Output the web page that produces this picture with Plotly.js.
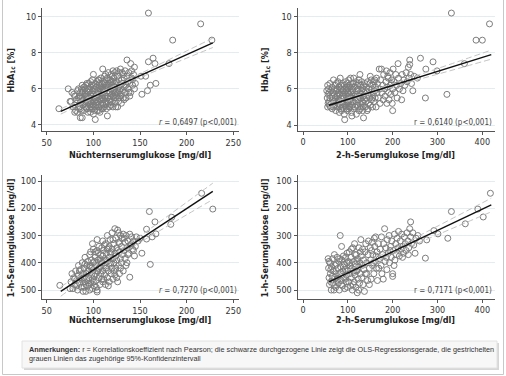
<!DOCTYPE html>
<html>
<head>
<meta charset="utf-8">
<script src="https://cdn.plot.ly/plotly-3.0.1.min.js"></script>
<style>
html,body{margin:0;padding:0;background:#fff;}
#chart{width:506px;height:376px;}
</style>
</head>
<body>
<div id="chart"></div>
<script>
// ---------- DATA ----------
// Panel 1: Nüchternserumglukose [mg/dl] vs HbA1c [%]
const fastingVsHba1c = [
[76,5.3],[78,5.0],[80,5.6],[81,4.8],[82,5.2],[83,5.9],[84,5.5],[79,5.7],[83,4.7],[84,6.0],[80,5.1],[82,5.4],[77,5.8],
[85,5.0],[86,5.8],[86,4.9],[87,5.3],[87,6.0],[88,5.5],[88,4.4],[89,5.1],[89,5.9],[90,5.4],[90,6.1],[90,4.8],[91,5.7],[91,5.2],[92,6.2],[92,5.0],[93,5.5],[93,5.9],[93,4.9],[94,5.3],[94,6.0],[94,5.6],[85,5.6],[86,5.2],[87,4.8],[88,6.2],[89,5.4],[91,6.0],[92,5.6],[94,4.7],[90,5.2],[88,5.8],[92,5.3],[93,6.3],[86,5.5],
[95,5.2],[95,5.8],[95,6.3],[96,4.9],[96,5.5],[96,6.0],[97,5.3],[97,5.7],[97,4.7],[98,6.2],[98,5.0],[98,5.6],[99,5.4],[99,5.9],[99,6.5],[100,5.1],[100,5.7],[100,6.8],[100,4.6],[101,5.3],[101,6.0],[101,5.5],[102,4.3],[102,5.8],[102,6.3],[102,5.0],[103,5.4],[103,6.1],[103,5.6],[104,4.8],[104,5.9],[104,6.4],[104,5.2],[95,5.5],[96,5.1],[97,6.1],[98,5.3],[99,4.9],[100,6.2],[101,4.8],[103,5.1],[104,5.5],[97,6.4],[99,5.1],[102,5.4],
[105,5.3],[105,5.9],[105,6.5],[106,5.0],[106,5.6],[106,6.2],[107,4.7],[107,5.4],[107,6.0],[108,5.8],[108,5.1],[108,6.6],[109,5.5],[109,6.3],[109,4.9],[110,5.7],[110,6.1],[110,7.1],[110,5.2],[111,5.4],[111,6.4],[111,5.9],[112,5.0],[112,6.0],[112,6.7],[113,5.6],[113,5.3],[113,6.2],[114,5.8],[114,4.9],[114,6.5],[105,5.7],[106,4.8],[107,6.3],[108,5.4],[109,5.9],[110,4.9],[111,5.1],[112,5.5],[113,6.8],[114,5.2],[106,6.5],[108,6.1],[110,5.5],[112,6.3],
[115,4.5],[115,5.5],[115,6.1],[115,6.6],[116,5.2],[116,5.9],[116,6.9],[117,5.4],[117,6.3],[117,5.0],[118,5.8],[118,6.5],[118,5.6],[119,6.0],[119,5.1],[119,6.8],[120,5.7],[120,6.2],[120,5.3],[121,7.0],[121,6.4],[121,5.0],[122,5.9],[122,6.6],[122,5.5],[123,6.1],[123,5.2],[123,6.9],[124,5.8],[124,6.3],[124,5.0],[116,6.3],[118,5.3],[120,6.7],[122,6.1],[124,5.5],[117,5.8],[119,6.4],[121,5.6],[123,5.7],
[125,5.6],[125,6.4],[125,7.0],[126,5.0],[126,6.0],[126,6.7],[127,5.8],[127,5.3],[128,6.2],[128,6.9],[128,5.5],[129,7.1],[129,6.0],[130,5.7],[130,6.5],[130,5.2],[131,6.3],[131,5.9],[132,6.8],[132,5.5],[133,6.1],[133,6.6],[134,5.8],[134,7.0],[127,6.5],[129,5.6],[131,6.9],[133,5.4],[128,5.9],
[135,6.2],[135,5.5],[136,7.6],[136,6.7],[137,6.0],[137,6.4],[138,5.8],[138,6.9],[139,6.3],[140,7.4],[140,5.8],[141,6.6],[141,7.0],[142,6.2],[143,6.8],[144,7.2],[144,6.0],[145,6.3],[139,5.6],[142,6.5],
[63,4.9],[73,6.0],[75,5.3],[80,4.7],[86,4.4],[152,5.7],[158,5.9],[161,6.2],[167,6.3],[156,6.7],[151,6.7],[159,7.5],[164,7.7],[166,7.4],[181,7.4],[159,10.2],[215,9.6],[185,8.7],[227,8.7]
];

// Panel 2: 2-h-Serumglukose [mg/dl] vs HbA1c [%]
const twoHourVsHba1c = [
[53,5.9],[54,5.5],[55,6.2],[55,5.0],[56,5.7],[57,6.0],[58,5.3],[58,5.8],[59,5.1],[60,6.3],[60,5.5],[61,5.0],[62,5.9],[63,5.2],[64,5.6],[65,6.1],[65,4.9],[66,5.4],[67,5.8],[68,5.0],[68,6.5],[69,5.3],[70,5.7],[70,6.0],[56,5.2],
[71,5.1],[72,5.5],[72,6.2],[73,4.8],[74,5.9],[75,5.3],[76,6.0],[76,5.6],[77,5.0],[78,6.4],[78,5.2],[79,5.8],[80,5.4],[80,6.1],[81,4.7],[82,5.7],[83,6.6],[83,5.1],[84,5.5],[85,6.0],[85,4.9],[86,5.3],[87,5.8],[88,6.3],[88,5.0],[89,5.6],[90,5.2],[90,6.0],[74,6.3],[77,5.7],[81,5.0],[84,6.2],[86,4.8],[89,5.9],[79,5.3],
[91,5.5],[92,4.6],[92,6.2],[93,4.3],[93,5.8],[94,5.1],[95,5.4],[95,6.4],[96,5.0],[97,5.9],[98,5.3],[98,6.1],[99,4.8],[100,5.6],[100,6.0],[101,5.2],[102,6.5],[102,4.9],[103,5.7],[104,5.4],[104,6.2],[105,5.0],[106,5.8],[106,6.6],[107,5.3],[108,4.7],[108,6.0],[109,5.6],[110,5.1],[110,6.3],[94,5.7],[97,4.9],[99,6.3],[101,5.8],[103,5.0],[105,6.1],[107,5.5],[109,4.5],[96,6.0],[100,5.3],
[111,5.9],[112,5.3],[113,6.6],[113,4.9],[114,5.6],[115,6.1],[116,5.0],[117,5.7],[118,6.4],[118,5.3],[119,4.6],[120,5.9],[121,6.2],[122,5.4],[122,5.0],[123,6.0],[124,5.6],[125,6.5],[125,4.8],[126,5.2],[127,6.8],[127,5.8],[128,5.5],[129,6.2],[130,5.0],[130,5.7],[131,6.4],[132,5.3],[133,6.0],[133,4.8],[134,5.6],[135,4.4],[135,6.2],[112,6.3],[116,5.5],[120,5.1],[124,6.3],[128,4.9],[131,5.9],[134,5.2],
[136,5.8],[137,5.4],[138,6.3],[139,5.0],[140,5.9],[141,6.1],[142,5.5],[143,4.8],[144,6.4],[145,5.7],[146,5.2],[147,6.0],[148,5.6],[149,6.3],[150,5.1],[151,5.8],[152,6.5],[153,5.4],[154,6.0],[155,5.0],[156,6.2],[157,5.7],[158,5.3],[159,6.4],[160,5.9],[161,5.5],[162,6.1],[163,5.0],[164,6.6],[165,5.8],[145,4.9],[150,6.7],[155,5.5],[160,6.5],[140,5.3],
[166,6.3],[168,5.5],[170,7.1],[171,6.0],[172,5.2],[173,6.5],[175,7.1],[176,5.8],[178,6.2],[179,5.4],[180,6.8],[182,6.0],[183,5.6],[185,6.4],[186,7.0],[187,5.2],[188,6.1],[190,6.6],[191,5.8],[192,5.4],[194,6.9],[195,6.2],[196,5.7],[198,6.5],[199,5.2],[200,6.0],[200,4.8],[201,7.1],[197,6.3],[189,6.7],
[203,6.4],[205,5.8],[207,6.8],[209,6.2],[210,5.5],[212,7.4],[213,6.6],[215,6.0],[218,6.3],[220,5.4],[221,6.8],[223,5.9],[225,6.5],[227,6.2],[230,6.9],[232,6.4],[235,7.2],[236,6.6],[238,7.6],[238,7.35],[240,6.8],[242,6.3],[245,5.9],[248,6.7],[255,6.6],
[262,7.7],[274,7.1],[273,5.5],[290,7.5],[299,7.0],[321,5.7],[331,10.2],[360,7.4],[386,8.7],[400,8.7],[416,9.6]
];

// Panel 3: Nüchternserumglukose [mg/dl] vs 1-h-Serumglukose [mg/dl]
const fastingVsOneHour = [
[76,470],[77,440],[78,495],[79,455],[80,480],[81,430],[82,465],[83,500],[84,445],[84,410],[85,475],[86,455],[86,425],[87,490],[88,440],[88,400],[89,470],[89,505],[80,460],[82,485],[85,430],[87,460],
[90,420],[90,455],[90,490],[91,380],[91,470],[92,440],[92,505],[93,410],[93,465],[94,395],[94,485],[95,430],[95,455],[96,370],[96,500],[97,415],[97,475],[98,445],[98,390],[99,330],[99,460],[99,495],[91,405],[93,440],[95,475],[97,360],[98,420],[92,480],[94,430],[96,410],
[100,350],[100,425],[100,470],[101,395],[101,485],[102,440],[102,380],[103,410],[103,465],[104,315],[104,355],[104,500],[105,430],[105,390],[106,455],[106,340],[107,415],[107,480],[108,370],[108,440],[109,400],[109,460],[100,400],[102,360],[103,490],[105,365],[106,420],[108,395],[109,345],[101,450],[104,430],[107,385],
[110,320],[110,375],[110,430],[110,470],[111,355],[111,410],[112,390],[112,445],[113,330],[113,480],[114,365],[114,420],[115,300],[115,395],[115,455],[116,345],[116,430],[117,380],[117,470],[118,315],[118,405],[119,360],[119,440],[112,335],[114,390],[116,485],[118,365],[111,460],[113,420],[117,340],[119,400],[115,350],
[120,290],[120,350],[120,420],[121,385],[121,460],[122,330],[122,400],[123,275],[123,365],[123,445],[124,310],[124,420],[125,345],[125,390],[126,280],[126,470],[127,325],[127,410],[128,360],[128,440],[129,300],[129,385],[121,315],[122,430],[124,375],[126,355],[128,330],[125,455],[127,290],[129,420],
[130,340],[130,400],[131,310],[131,370],[132,295],[132,430],[133,355],[134,325],[134,385],[135,300],[136,345],[136,400],[137,320],[138,365],[139,295],[140,335],[141,305],[142,350],[143,320],[144,375],[145,340],[146,305],[133,310],[135,410],[137,370],[139,340],[141,330],[143,355],[148,320],[150,310],
[64,483],[75,495],[104,507],[139,453],[152,365],[157,313],[161,406],[163,305],[167,294],[157,277],[160,212],[166,250],[183,259],[184,233],[216,145],[228,203]
];

// Panel 4: 2-h-Serumglukose [mg/dl] vs 1-h-Serumglukose [mg/dl]
const twoHourVsOneHour = [
[56,385],[57,420],[58,455],[59,480],[60,400],[61,440],[62,470],[63,500],[64,415],[65,450],[66,385],[67,475],[68,430],[69,500],[70,370],[71,455],[72,410],[73,490],[74,440],[75,465],[58,395],[62,425],[66,460],[70,485],[74,405],
[76,380],[77,450],[78,420],[79,475],[80,395],[81,500],[82,440],[83,300],[84,415],[85,465],[86,340],[87,390],[88,485],[89,430],[90,375],[91,455],[92,405],[93,495],[94,425],[95,380],[96,470],[97,445],[98,400],[99,490],[100,430],[78,460],[82,385],[86,480],[90,415],[94,460],[98,365],[84,435],
[101,395],[102,470],[103,360],[104,440],[105,410],[106,485],[107,380],[108,455],[109,420],[110,500],[111,345],[112,430],[113,395],[114,470],[115,330],[116,445],[117,405],[118,490],[119,370],[120,430],[121,510],[122,385],[123,460],[124,415],[125,345],[126,475],[127,400],[128,440],[129,315],[130,375],[104,400],[108,350],[112,480],[116,370],[120,395],[124,500],[128,360],[106,425],[114,435],[122,425],
[131,455],[132,410],[133,350],[134,480],[135,390],[136,425],[137,505],[138,360],[139,440],[140,330],[142,400],[144,465],[145,370],[146,320],[148,420],[150,345],[151,390],[152,460],[154,325],[155,410],[156,370],[158,440],[160,340],[161,395],[162,305],[164,420],[165,360],[166,465],[168,330],[170,385],[148,480],[153,355],[157,400],[163,375],[169,420],[142,440],[159,310],
[172,350],[174,410],[175,305],[176,440],[178,370],[180,330],[182,275],[183,395],[185,345],[187,425],[188,315],[190,365],[192,300],[193,400],[195,340],[197,380],[198,320],[200,440],[200,450],[202,355],[204,295],[205,390],[207,330],[208,370],[210,310],[179,460],[186,380],[194,355],[203,410],
[212,345],[213,285],[215,375],[217,320],[219,350],[220,295],[222,340],[224,365],[226,305],[228,330],[230,355],[232,290],[234,320],[236,345],[238,275],[240,250],[240,305],[242,330],[245,290],[247,335],[250,365],[252,310],[256,300],[260,320],[222,380],[235,370],
[273,383],[276,316],[292,282],[301,294],[323,310],[331,212],[362,257],[390,203],[402,232],[418,145]
];

// OLS fit lines and 95% CI bounds
const fit1X = [65, 90, 115, 140, 170, 200, 228];
const fit1Y = [4.75, 5.33, 5.92, 6.50, 7.20, 7.90, 8.55];
const ci1Lo = [4.60, 5.23, 5.85, 6.41, 7.06, 7.70, 8.29];
const ci1Hi = [4.90, 5.43, 5.99, 6.59, 7.34, 8.10, 8.81];

const fit2X = [58, 100, 140, 180, 250, 330, 420];
const fit2Y = [5.10, 5.42, 5.73, 6.04, 6.59, 7.20, 7.90];
const ci2Lo = [4.97, 5.33, 5.66, 5.96, 6.47, 7.02, 7.65];
const ci2Hi = [5.23, 5.51, 5.80, 6.12, 6.71, 7.38, 8.15];

const fit3X = [65, 90, 115, 140, 170, 200, 228];
const fit3Y = [505, 448.7, 392.4, 336.1, 268.6, 201.0, 138.0];
const ci3Lo = [523, 459.7, 400.4, 346.1, 284.6, 224.0, 168.0];
const ci3Hi = [487, 437.7, 384.4, 326.1, 252.6, 178.0, 108.0];

const fit4X = [58, 100, 140, 180, 250, 330, 420];
const fit4Y = [470, 437.3, 406.1, 375.0, 320.4, 258.1, 188.0];
const ci4Lo = [485, 447.3, 413.1, 383.0, 332.4, 276.1, 213.0];
const ci4Hi = [455, 427.3, 399.1, 367.0, 308.4, 240.1, 163.0];

const rLabels = ['<i>r</i> = 0,6497 (p&lt;0,001)', 'r = 0,6140 (p&lt;0,001)', '<i>r</i> = 0,7270 (p&lt;0,001)', 'r = 0,7171 (p&lt;0,001)'];
const xTitles = ['Nüchternserumglukose [mg/dl]', '2-h-Serumglukose [mg/dl]', 'Nüchternserumglukose [mg/dl]', '2-h-Serumglukose [mg/dl]'];
const yTitles = ['HbA<sub>1c</sub> [%]', 'HbA<sub>1c</sub> [%]', '1-h-Serumglukose [mg/dl]', '1-h-Serumglukose [mg/dl]'];
const fastingTicks = [50, 100, 150, 200, 250];
const twoHourTicks = [0, 100, 200, 300, 400];
const hbaTicks = [4, 6, 8, 10];
const oneHourTicks = [100, 200, 300, 400, 500];
const noteLine1 = '<b>Anmerkungen:</b> r = Korrelationskoeffizient nach Pearson; die schwarze durchgezogene Linie zeigt die OLS-Regressionsgerade, die gestrichelten';
const noteLine2 = 'grauen Linien das zugehörige 95%-Konfidenzintervall';

// ---------- LAYOUT HELPERS ----------
const W = 506, H = 376;
const px = v => v / W;
const py = v => 1 - v / H;
const FONT = '"Liberation Sans Narrow", "DejaVu Sans Condensed", "Arial Narrow", "Liberation Sans", sans-serif';
const NOTEFONT = '"Liberation Sans", Arial, sans-serif';

const panels = [
  {pts: fastingVsHba1c, fx: fit1X, fy: fit1Y, lo: ci1Lo, hi: ci1Hi, xd: [42, 239], yd: [8, 130.7], xr: [44.9, 256.1], yr: [3.68, 10.48], xt: fastingTicks, yt: hbaTicks},
  {pts: twoHourVsHba1c, fx: fit2X, fy: fit2Y, lo: ci2Lo, hi: ci2Hi, xd: [297.5, 494.7], yd: [8, 130.5], xr: [-12.3, 427.6], yr: [3.7, 10.48], xt: twoHourTicks, yt: hbaTicks},
  {pts: fastingVsOneHour, fx: fit3X, fy: fit3Y, lo: ci3Lo, hi: ci3Hi, xd: [42, 239], yd: [175, 299], xr: [44.9, 256.1], yr: [533, 78], xt: fastingTicks, yt: oneHourTicks},
  {pts: twoHourVsOneHour, fx: fit4X, fy: fit4Y, lo: ci4Lo, hi: ci4Hi, xd: [297.5, 494.7], yd: [175, 298.5], xr: [-12.3, 427.6], yr: [531, 78], xt: twoHourTicks, yt: oneHourTicks}
];

const traces = [];
const layout = {
  width: W, height: H,
  margin: {l: 0, r: 0, t: 0, b: 0},
  paper_bgcolor: '#ffffff', plot_bgcolor: 'rgba(0,0,0,0)',
  showlegend: false,
  font: {family: FONT, size: 9, color: '#333'},
  annotations: [], shapes: []
};

const titlePos = [
  {x: [140, 155], y: [10.5, 70]},
  {x: [395, 155], y: [265, 70]},
  {x: [140, 320], y: [10.5, 238]},
  {x: [395, 320], y: [264.5, 238]}
];
const rPos = [[238.5, 122.5], [493.5, 122.5], [238.5, 290], [493.5, 290]];

panels.forEach((p, i) => {
  const n = i + 1;
  const xa = 'x' + (n === 1 ? '' : n), ya = 'y' + (n === 1 ? '' : n);
  traces.push({
    type: 'scatter', mode: 'markers', xaxis: xa, yaxis: ya,
    x: p.pts.map(d => d[0]), y: p.pts.map(d => d[1]),
    marker: {symbol: 'circle-open', size: 6, color: '#7d7d7d', line: {width: 1, color: '#7d7d7d'}},
    hoverinfo: 'skip'
  });
  [p.lo, p.hi].forEach(b => traces.push({
    type: 'scatter', mode: 'lines', xaxis: xa, yaxis: ya,
    x: p.fx, y: b, line: {color: '#c4c4c4', width: 1, dash: '6px,3px', shape: 'spline'}, hoverinfo: 'skip'
  }));
  traces.push({
    type: 'scatter', mode: 'lines', xaxis: xa, yaxis: ya,
    x: p.fx, y: p.fy, line: {color: '#111', width: 1.4}, hoverinfo: 'skip'
  });
  const axCommon = {
    showline: true, linecolor: '#555', linewidth: 1, ticks: 'outside', ticklen: 3, tickwidth: 1, tickcolor: '#555',
    zeroline: false, tickfont: {size: 9, color: '#333', family: FONT}, fixedrange: true
  };
  layout['xaxis' + (n === 1 ? '' : n)] = Object.assign({}, axCommon, {
    domain: [px(p.xd[0]), px(p.xd[1])], range: p.xr, tickvals: p.xt, showgrid: false, anchor: ya
  });
  layout['yaxis' + (n === 1 ? '' : n)] = Object.assign({}, axCommon, {
    domain: [py(p.yd[1]), py(p.yd[0])], range: p.yr, tickvals: p.yt, showgrid: true, gridcolor: '#e3ecee', gridwidth: 1, anchor: xa
  });
  const tp = titlePos[i];
  layout.annotations.push({
    xref: 'paper', yref: 'paper', x: px(tp.x[0]), y: py(tp.x[1]), xanchor: 'center', yanchor: 'middle',
    text: '<b>' + xTitles[i] + '</b>', showarrow: false, font: {size: 9, color: '#222', family: FONT}
  });
  layout.annotations.push({
    xref: 'paper', yref: 'paper', x: px(tp.y[0]), y: py(tp.y[1]), xanchor: 'center', yanchor: 'middle',
    text: '<b>' + yTitles[i] + '</b>', textangle: -90, showarrow: false, font: {size: 9, color: '#222', family: FONT}
  });
  layout.annotations.push({
    xref: 'paper', yref: 'paper', x: px(rPos[i][0]), y: py(rPos[i][1]), xanchor: 'right', yanchor: 'middle',
    text: rLabels[i], showarrow: false, font: {size: 8, color: '#444', family: FONT}
  });
});

// frame and note box
const line = (x0, y0, x1, y1) => ({type: 'line', xref: 'paper', yref: 'paper', x0: px(x0), y0: py(y0), x1: px(x1), y1: py(y1), line: {color: '#c8c8c8', width: 1}, layer: 'below'});
layout.shapes.push(line(2.5, 0, 2.5, 374.5), line(2.5, 374.5, 503.5, 374.5), line(503.5, 0, 503.5, 374.5));
layout.shapes.push({type: 'rect', xref: 'paper', yref: 'paper', x0: px(24), y0: py(370), x1: px(499), y1: py(343), fillcolor: '#d6d6d6', line: {width: 0}, layer: 'below'});
layout.shapes.push({type: 'rect', xref: 'paper', yref: 'paper', x0: px(22), y0: py(368), x1: px(497), y1: py(341), fillcolor: '#f7f7f7', line: {color: '#e2e2e2', width: 1}, layer: 'below'});
layout.annotations.push({
  xref: 'paper', yref: 'paper', x: px(27), y: py(349.5), xanchor: 'left', yanchor: 'middle', align: 'left',
  text: noteLine1, showarrow: false, font: {size: 7.25, color: '#333', family: NOTEFONT}
});
layout.annotations.push({
  xref: 'paper', yref: 'paper', x: px(27), y: py(358.5), xanchor: 'left', yanchor: 'middle', align: 'left',
  text: noteLine2, showarrow: false, font: {size: 7.25, color: '#333', family: NOTEFONT}
});

Plotly.newPlot('chart', traces, layout, {displayModeBar: false, staticPlot: true});
</script>
</body>
</html>
